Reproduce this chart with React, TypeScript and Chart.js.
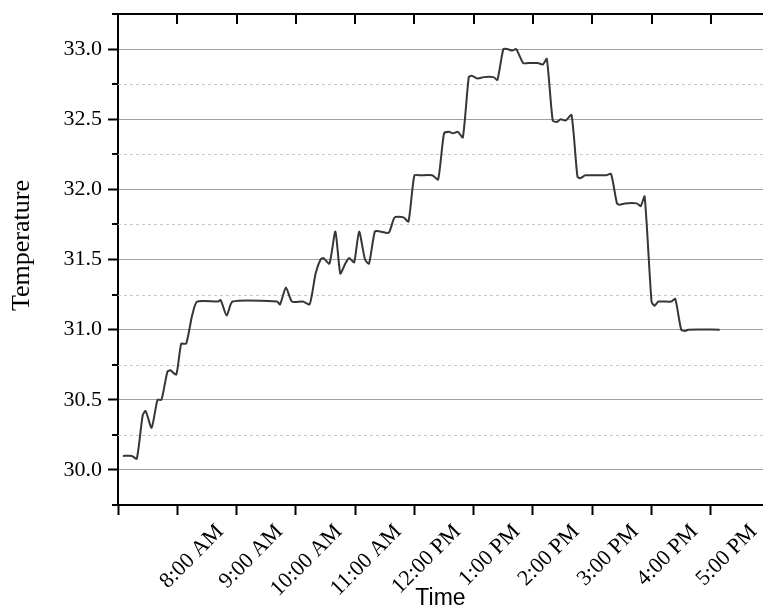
import React, { useEffect, useRef } from 'react';
import { Chart, registerables } from 'chart.js';

Chart.register(...registerables);

// Time of reading (24h clock)
const times: string[] = [
  '7:05', '7:14', '7:19', '7:25', '7:28', '7:34', '7:40', '7:44', '7:50', '7:53', '7:59',
  '8:04', '8:09', '8:15', '8:20', '8:41', '8:44', '8:50', '8:56',
  '9:41', '9:44', '9:50', '9:56',
  '10:07', '10:14', '10:20', '10:25', '10:28', '10:34', '10:40', '10:45', '10:50', '10:54', '10:59',
  '11:04', '11:10', '11:14', '11:20', '11:25', '11:34', '11:40', '11:49', '11:54',
  '12:00', '12:06', '12:18', '12:24', '12:30', '12:35', '12:39', '12:44', '12:49', '12:55', '12:58',
  '13:04', '13:10', '13:20', '13:24', '13:30', '13:34', '13:39', '13:43', '13:50', '13:55',
  '14:05', '14:10', '14:14', '14:20', '14:24', '14:28', '14:33', '14:39', '14:45', '14:48', '14:53',
  '15:14', '15:19', '15:25', '15:28', '15:33', '15:45', '15:49', '15:53',
  '16:00', '16:03', '16:07', '16:20', '16:24', '16:30', '16:34', '16:37',
  '17:09',
];

// Temperature readings
const temps: number[] = [
  30.10, 30.10, 30.08, 30.39, 30.42, 30.30, 30.50, 30.50, 30.70, 30.71, 30.68,
  30.90, 30.90, 31.10, 31.20, 31.20, 31.21, 31.10, 31.20,
  31.20, 31.18, 31.30, 31.20,
  31.20, 31.18, 31.40, 31.50, 31.51, 31.47, 31.70, 31.40, 31.47, 31.51, 31.48,
  31.70, 31.50, 31.47, 31.70, 31.70, 31.69, 31.80, 31.80, 31.77,
  32.10, 32.10, 32.10, 32.07, 32.40, 32.41, 32.40, 32.41, 32.37, 32.80, 32.81,
  32.79, 32.80, 32.80, 32.78, 33.00, 33.00, 32.99, 33.00, 32.90, 32.90,
  32.90, 32.89, 32.93, 32.49, 32.48, 32.50, 32.49, 32.53, 32.09, 32.08, 32.10,
  32.10, 32.11, 31.90, 31.89, 31.90, 31.90, 31.88, 31.95,
  31.20, 31.17, 31.20, 31.20, 31.22, 31.00, 30.99, 31.00,
  31.00,
];

// Axis ranges / ticks
const xMinHour = 7;
const xMaxHour = 17.88;
const xTickHours: number[] = [7, 8, 9, 10, 11, 12, 13, 14, 15, 16, 17];
const yMin = 29.75;
const yMax = 33.25;
const yMajorValues: number[] = [30.0, 30.5, 31.0, 31.5, 32.0, 32.5, 33.0];
const yMinorValues: number[] = [29.75, 30.25, 30.75, 31.25, 31.75, 32.25, 32.75, 33.25];
const yTitle = 'Temperature';

const toHours = (t: string): number => {
  const [h, m] = t.split(':').map(Number);
  return h + m / 60;
};

const fmtHour = (v: number): string => {
  const h = Math.round(v);
  if (h === 7) return '';
  const ap = h < 12 ? 'AM' : 'PM';
  const hh = h % 12 === 0 ? 12 : h % 12;
  return `${hh}:00 ${ap}`;
};

const SERIF = "'Liberation Serif', 'Times New Roman', serif";
const SANS = "'Liberation Sans', Arial, sans-serif";

const framePlugin = {
  id: 'frame',
  beforeDatasetsDraw(chart: any) {
    const { ctx, chartArea, scales } = chart;
    const y = scales.y;
    ctx.save();
    ctx.strokeStyle = '#c8c8c8';
    ctx.lineWidth = 1;
    ctx.setLineDash([3, 3]);
    for (const v of yMinorValues) {
      if (v <= yMin || v >= yMax) continue;
      const py = Math.round(y.getPixelForValue(v)) + 0.5;
      ctx.beginPath();
      ctx.moveTo(chartArea.left, py);
      ctx.lineTo(chartArea.right, py);
      ctx.stroke();
    }
    ctx.restore();
  },
  afterDraw(chart: any) {
    const { ctx, chartArea, scales } = chart;
    const x = scales.x;
    const y = scales.y;
    ctx.save();
    ctx.strokeStyle = '#000';
    ctx.setLineDash([]);
    // top axis line
    ctx.lineWidth = 2;
    ctx.beginPath();
    ctx.moveTo(chartArea.left - 1, chartArea.top);
    ctx.lineTo(chartArea.right, chartArea.top);
    ctx.stroke();
    // top ticks (inward)
    for (const h of xTickHours) {
      if (h === xMinHour) continue;
      const px = Math.round(x.getPixelForValue(h));
      ctx.beginPath();
      ctx.moveTo(px, chartArea.top);
      ctx.lineTo(px, chartArea.top + 10);
      ctx.stroke();
    }
    // left minor ticks (outward)
    for (const v of yMinorValues) {
      const py = Math.round(y.getPixelForValue(v));
      ctx.beginPath();
      ctx.moveTo(chartArea.left, py);
      ctx.lineTo(chartArea.left - 6, py);
      ctx.stroke();
    }
    // y axis title
    ctx.fillStyle = '#000';
    ctx.font = `26px ${SERIF}`;
    ctx.textAlign = 'center';
    ctx.textBaseline = 'middle';
    ctx.translate(22, (chartArea.top + chartArea.bottom) / 2 - 14);
    ctx.rotate(-Math.PI / 2);
    ctx.fillText(yTitle, 0, 0);
    ctx.restore();
  },
};

export default function App() {
  const ref = useRef<HTMLCanvasElement | null>(null);

  useEffect(() => {
    if (!ref.current) return;
    const data = times.map((t, i) => ({ x: toHours(t), y: temps[i] }));
    const chart = new Chart(ref.current, {
      type: 'line',
      data: {
        datasets: [
          {
            label: 'Temperature',
            data,
            borderColor: '#363636',
            borderWidth: 2,
            pointRadius: 0,
            tension: 0.2,
            fill: false,
          },
        ],
      },
      options: {
        animation: false,
        responsive: false,
        maintainAspectRatio: false,
        layout: { padding: { top: 14, right: 0, left: 0, bottom: 0 } },
        plugins: {
          legend: { display: false },
          tooltip: { enabled: false },
        },
        scales: {
          x: {
            type: 'linear',
            min: xMinHour,
            max: xMaxHour,
            afterBuildTicks: (s: any) => {
              s.ticks = xTickHours.map((v) => ({ value: v }));
            },
            ticks: {
              autoSkip: false,
              maxRotation: 45,
              minRotation: 45,
              labelOffset: 43,
              padding: 4,
              color: '#000',
              font: { family: SERIF, size: 22 },
              callback: (v: any) => fmtHour(Number(v)),
            },
            grid: {
              drawOnChartArea: false,
              drawTicks: true,
              tickLength: 10,
              tickColor: '#000',
              tickWidth: 2,
            },
            border: { color: '#000', width: 2 },
            title: {
              display: true,
              text: 'Time',
              color: '#000',
              font: { family: SANS, size: 23 },
              padding: { top: 0, bottom: 0 },
            },
            afterFit: (s: any) => {
              s.height = 107;
              s.paddingLeft = 0;
              s.paddingRight = 0;
            },
          },
          y: {
            min: yMin,
            max: yMax,
            afterBuildTicks: (s: any) => {
              s.ticks = yMajorValues.map((v) => ({ value: v }));
            },
            ticks: {
              padding: 6,
              color: '#000',
              font: { family: SERIF, size: 22 },
              callback: (v: any) => Number(v).toFixed(1),
            },
            grid: {
              color: '#a0a0a0',
              lineWidth: 1,
              tickLength: 10,
              tickColor: '#000',
              tickWidth: 2,
            },
            border: { color: '#000', width: 2 },
            title: { display: false },
            afterFit: (s: any) => {
              s.width = 118;
              s.paddingTop = 0;
              s.paddingBottom = 0;
            },
          },
        },
      },
      plugins: [framePlugin],
    } as any);
    return () => chart.destroy();
  }, []);

  return (
    <canvas
      ref={ref}
      width={763}
      height={612}
      style={{ position: 'fixed', left: 0, top: 0, display: 'block' }}
    />
  );
}
